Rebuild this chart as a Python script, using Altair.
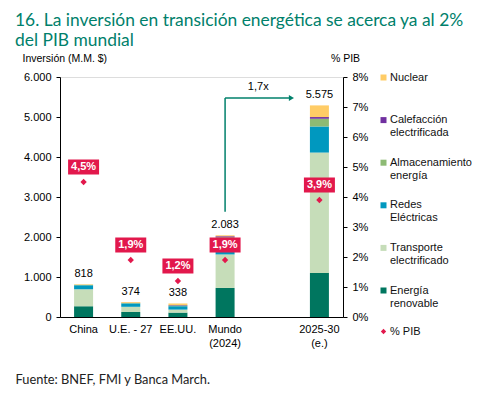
import altair as alt
import pandas as pd

# ---------------- data ----------------
cats = ["China", "U.E. - 27", "EE.UU.", "Mundo|(2024)", "2025-30|(e.)"]
x_domain = ["China", "U.E. - 27", "EE.UU.", "Mundo|(2024)", " ", "2025-30|(e.)"]

series = ["Energía|renovable", "Transporte|electrificado", "Redes|Eléctricas",
          "Almacenamiento|energía", "Calefacción|electrificada", "Nuclear"]
colors = ["#00765F", "#C6DDB9", "#0098BF", "#8DBA74", "#7030A0", "#FFCC66"]

renovable = [268, 125, 110, 727, 1103]
transporte = [426, 130, 75, 837, 3008]
redes = [100, 85, 85, 390, 652]
almacenamiento = [10, 10, 20, 40, 193]
calefaccion = [0, 4, 10, 25, 43]
nuclear = [14, 20, 38, 24, 291]

totals_label = ["818", "374", "338", "2.083", "5.575"]
pct = [4.5, 1.9, 1.2, 1.9, 3.9]
pct_label = ["4,5%", "1,9%", "1,2%", "1,9%", "3,9%"]

arrow_from = "Mundo|(2024)"
arrow_to = "2025-30|(e.)"
arrow_y0 = 2630
arrow_y1 = 5474
growth_label = "1,7x"

source = "Fuente: BNEF, FMI y Banca March."
title_lines = ["16. La inversión en transición energética se acerca ya al 2%",
               "del PIB mundial"]

# ---------------- tables ----------------
vals = [renovable, transporte, redes, almacenamiento, calefaccion, nuclear]
rows = []
for si, (s, v) in enumerate(zip(series, vals)):
    for c, x in zip(cats, v):
        rows.append({"cat": c, "serie": s, "value": x, "ord": si})
df_bars = pd.DataFrame(rows)
df_tot = pd.DataFrame({"cat": cats,
                       "top": [sum(v[i] for v in vals) for i in range(len(cats))],
                       "label": totals_label})
df_pct = pd.DataFrame({"cat": cats, "pct": pct, "label": pct_label, "leg": ["% PIB"] * len(cats)})
df_av = pd.DataFrame({"cat": [arrow_from], "y0": [arrow_y0], "y1": [arrow_y1]})
df_ah = pd.DataFrame({"cat": [arrow_from], "cat2": [arrow_to], "y": [arrow_y1]})
df_head = pd.DataFrame({"cat": [arrow_to], "y": [arrow_y1]})
df_growth = pd.DataFrame({"cat": [" "], "y": [arrow_y1], "label": [growth_label]})

TEAL = "#00806B"
RED = "#E2184C"
FONT = "Liberation Sans"

x_axis = alt.Axis(labelExpr="split(datum.label, '|')", labelFont=FONT, labelFontSize=11,
                  labelColor="#000", ticks=False, domainColor="#000", labelPadding=6,
                  labelLineHeight=14, labelAngle=0,
                  titleX=-45, titleY=62, titleAlign="left", titleBaseline="middle",
                  titleFont="Lato", titleFontSize=12.8, titleFontWeight="normal", titleColor="#222")


def X(f):
    return alt.X(f"{f}:N", scale=alt.Scale(domain=x_domain, paddingInner=0, paddingOuter=0),
                 axis=x_axis, title=source, sort=None)


left_axis = alt.Axis(values=[0, 1000, 2000, 3000, 4000, 5000, 6000],
                     labelExpr="replace(format(datum.value, ',.0f'), ',', '.')",
                     labelFont=FONT, labelFontSize=11, labelColor="#000", grid=False,
                     tickSize=4, tickColor="#000", domainColor="#000", labelPadding=5,
                     titleAngle=0, titleX=-38, titleY=-19, titleAlign="left",
                     titleBaseline="middle", titleFont=FONT, titleFontSize=10.5,
                     titleFontWeight="normal", titleColor="#000")
left_scale = alt.Scale(domain=[0, 6000], nice=False)


def YL(f, **kw):
    return alt.Y(f"{f}:Q", scale=left_scale, axis=left_axis, title="Inversión (M.M. $)", **kw)


right_axis = alt.Axis(orient="right", values=[0, 1, 2, 3, 4, 5, 6, 7, 8],
                      labelExpr="datum.value + '%'",
                      labelFont=FONT, labelFontSize=11, labelColor="#000", grid=False,
                      tickSize=4, tickColor="#000", domainColor="#000", labelPadding=5,
                      titleAngle=0, titleX=2, titleY=-19, titleAlign="center",
                      titleBaseline="middle", titleFont=FONT, titleFontSize=10.5,
                      titleFontWeight="normal", titleColor="#000")
right_scale = alt.Scale(domain=[0, 8], nice=False)


def YR(f):
    return alt.Y(f"{f}:Q", scale=right_scale, axis=right_axis, title="% PIB")


bars = alt.Chart(df_bars).mark_bar(size=19).encode(
    x=X("cat"),
    y=YL("value", stack="zero"),
    color=alt.Color("serie:N",
                    scale=alt.Scale(domain=series[::-1], range=colors[::-1]),
                    legend=alt.Legend(orient="none", legendX=318, legendY=-5, title=None,
                                      symbolType="square", symbolSize=36, symbolStrokeWidth=0,
                                      labelExpr="split(datum.label, '|')", labelFont=FONT,
                                      labelFontSize=11, labelColor="#111", labelLimit=200,
                                      gridAlign="all", rowPadding=17.6, padding=0,
                                      labelOffset=1)),
    order=alt.Order("ord:Q", sort="ascending"),
)

tot = alt.Chart(df_tot).mark_text(dy=-10, font=FONT, fontSize=11, color="#000").encode(
    x=X("cat"), y=YL("top"), text="label:N")

arr_v = alt.Chart(df_av).mark_rule(color=TEAL, strokeWidth=1.5).encode(
    x=X("cat"), y=YL("y0"), y2="y1")
arr_h = alt.Chart(df_ah).mark_rule(color=TEAL, strokeWidth=1.5, x2Offset=-28).encode(
    x=X("cat"), x2="cat2", y=YL("y"))
head = alt.Chart(df_head).mark_point(shape="triangle-right", filled=True, color=TEAL,
                                     size=35, opacity=1, xOffset=-28).encode(
    x=X("cat"), y=YL("y"))
growth = alt.Chart(df_growth).mark_text(dx=-14, dy=-11, font=FONT, fontSize=11, color="#000").encode(
    x=X("cat"), y=YL("y"), text="label:N")

left = alt.layer(bars, tot, arr_v, arr_h, head, growth)

diam = alt.Chart(df_pct).mark_point(filled=True, color=RED, size=40, opacity=1).encode(
    x=X("cat"), y=YR("pct"),
    shape=alt.Shape("leg:N", scale=alt.Scale(range=["diamond"]),
                    legend=alt.Legend(orient="none", legendX=318, legendY=249, title=None,
                                      symbolSize=28, labelFont=FONT, labelFontSize=11,
                                      labelColor="#111", padding=0, labelOffset=1,
                                      symbolFillColor=RED, symbolStrokeWidth=0)))
box = alt.Chart(df_pct).mark_point(shape="M-1,-0.484H1V0.484H-1Z", filled=True, color=RED,
                                   size=961, opacity=1, yOffset=-15).encode(
    x=X("cat"), y=YR("pct"))
boxtxt = alt.Chart(df_pct).mark_text(dy=-15, font=FONT, fontSize=11, fontWeight="bold",
                                     color="#fff").encode(
    x=X("cat"), y=YR("pct"), text="label:N")

right = alt.layer(diam, box, boxtxt)

chart = alt.layer(left, right).resolve_scale(
    y="independent", color="independent", shape="independent"
).properties(
    width=283, height=240,
    autosize=alt.AutoSizeParams(type="none"),
    padding={"left": 52, "top": 69, "right": 130, "bottom": 71},
    title=alt.TitleParams(text=title_lines, anchor="start", frame="group", font="Lato",
                          fontSize=17.4, fontWeight="normal", color=TEAL, dx=-45, dy=4,
                          lineHeight=20, offset=8),
).configure_view(stroke=None).configure(background="white")

chart.save("out.html", embed_options={"renderer": "svg", "actions": False})
